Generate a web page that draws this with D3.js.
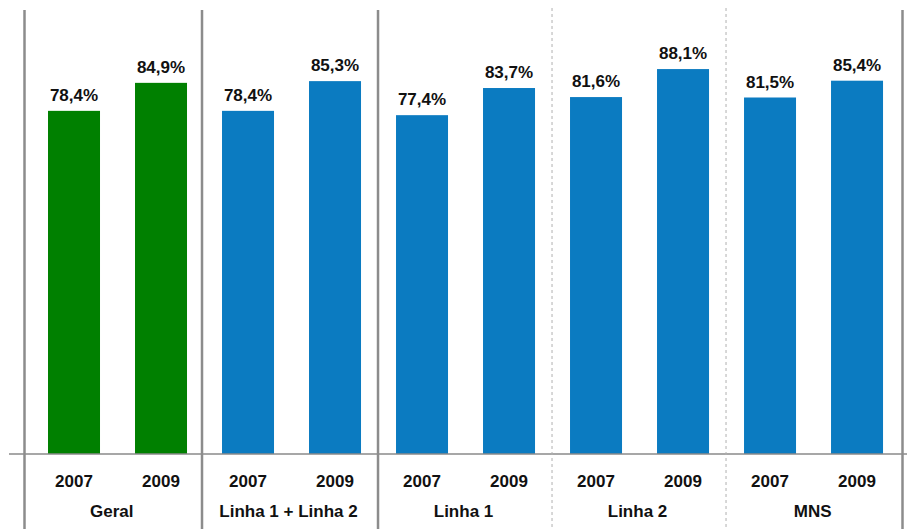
<!DOCTYPE html>
<html><head><meta charset="utf-8">
<script src="https://cdn.jsdelivr.net/npm/d3@7"></script>
<style>body{margin:0;background:#fff}svg{display:block}</style>
</head><body>
<svg id="c" width="907" height="529"></svg>
<script>
const groups = ["Geral", "Linha 1 + Linha 2", "Linha 1", "Linha 2", "MNS"];
const years = ["2007", "2009"];
const values2007 = [78.4, 78.4, 77.4, 81.6, 81.5];
const values2009 = [84.9, 85.3, 83.7, 88.1, 85.4];
const groupColors = ["#008000", "#0b7bc1", "#0b7bc1", "#0b7bc1", "#0b7bc1"];
const separatorStyles = ["solid", "solid", "solid", "dashed", "dashed", "solid"];

const svg = d3.select("#c");
const W = 907, H = 529, baseY = 454;

const data = [];
groups.forEach((g, i) => {
  data.push({g, yr: years[0], v: values2007[i], c: groupColors[i], key: g + "|" + years[0]});
  data.push({g, yr: years[1], v: values2009[i], c: groupColors[i], key: g + "|" + years[1]});
});

const x = d3.scaleBand().domain(data.map(d => d.key)).range([24.5, 902.5])
  .paddingInner(35 / 87).paddingOuter(0.247).align(0.547);
const y = d3.scaleLinear().domain([-1.25, 100]).range([baseY, 17.8]);

// separators: outer edges of range, interior at midpoints between groups
const sepX = [x.range()[0]];
for (let i = 1; i < groups.length; i++) {
  const left = x(groups[i - 1] + "|" + years[1]) + x.bandwidth();
  const right = x(groups[i] + "|" + years[0]);
  sepX.push((left + right) / 2 - (i === 1 ? 2.5 : 0.5));
}
sepX.push(x.range()[1]);

// bars
svg.append("g").selectAll("rect").data(data).join("rect")
  .attr("x", d => x(d.key))
  .attr("width", x.bandwidth())
  .attr("y", d => y(d.v))
  .attr("height", d => y(y.domain()[0]) - y(d.v))
  .attr("fill", d => d.c);

const font = "Liberation Sans, Arial, sans-serif";

// value labels
svg.append("g").selectAll("text").data(data).join("text")
  .attr("x", d => x(d.key) + x.bandwidth() / 2)
  .attr("y", d => y(d.v) - 10)
  .attr("text-anchor", "middle")
  .attr("font-family", font)
  .attr("font-weight", "bold").attr("font-size", 17).attr("fill", "#111")
  .text(d => d3.format(".1f")(d.v).replace(".", ",") + "%");

// baseline
svg.append("line").attr("x1", 9).attr("x2", W).attr("y1", baseY).attr("y2", baseY)
  .attr("stroke", "#8a8a8a").attr("stroke-width", 1.6);

// separators
svg.append("g").selectAll("line").data(sepX).join("line")
  .attr("x1", d => d).attr("x2", d => d)
  .attr("y1", (d, i) => separatorStyles[i] === "solid" ? 10 : 8)
  .attr("y2", H)
  .attr("stroke", (d, i) => separatorStyles[i] === "solid" ? "#8c8c8c" : "#b0b0b0")
  .attr("stroke-width", (d, i) => separatorStyles[i] === "solid" ? 2.5 : 1)
  .attr("stroke-dasharray", (d, i) => separatorStyles[i] === "solid" ? null : "3,3");

// year labels
svg.append("g").selectAll("text").data(data).join("text")
  .attr("x", d => x(d.key) + x.bandwidth() / 2)
  .attr("y", 487)
  .attr("text-anchor", "middle")
  .attr("font-family", font)
  .attr("font-weight", "bold").attr("font-size", 17).attr("fill", "#111")
  .text(d => d.yr);

// group labels
svg.append("g").selectAll("text").data(groups).join("text")
  .attr("x", (g, i) => (sepX[i] + sepX[i + 1]) / 2 - 1.5)
  .attr("y", 517)
  .attr("text-anchor", "middle")
  .attr("font-family", font)
  .attr("font-weight", "bold").attr("font-size", 17).attr("fill", "#111")
  .text(g => g);
</script>
</body></html>
